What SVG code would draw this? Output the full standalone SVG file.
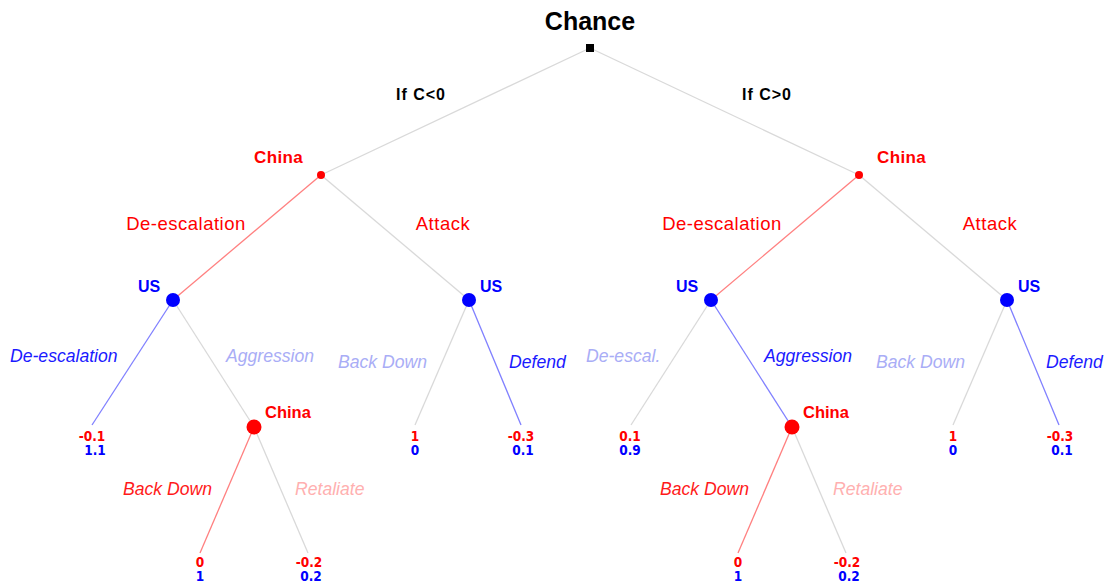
<svg xmlns="http://www.w3.org/2000/svg" width="1107" height="583" viewBox="0 0 1107 583">
<style>
text{font-family:"Liberation Sans",Arial,sans-serif}
.t{text-anchor:middle}
.chance{font-size:25px;font-weight:bold;fill:#000}
.ifc{font-size:16px;font-weight:bold;fill:#000;letter-spacing:1px}
.ch{font-size:17px;font-weight:bold;fill:#ff0000;letter-spacing:0.4px}
.chs{font-size:16.5px;font-weight:bold;fill:#ff0000}
.us{font-size:16px;font-weight:bold;fill:#0000ff}
.ra{font-size:18.5px;fill:#ff0000;letter-spacing:0.5px}
.bi{font-size:17.6px;font-style:italic;fill:#1a1aff}
.bl{font-size:17.6px;font-style:italic;fill:#a9adf6}
.ri{font-size:17.6px;font-style:italic;fill:#ff1a1a}
.rl{font-size:17.6px;font-style:italic;fill:#ffb0b0}
.nr,.nb{font-family:"DejaVu Sans Condensed","DejaVu Sans","Liberation Sans",sans-serif;font-stretch:condensed;font-size:13.5px;font-weight:bold;text-anchor:middle}
.nr{fill:#ff0000}
.nb{fill:#0000ff}
.g{stroke:#d9d9d9;stroke-width:1.3;fill:none}
.r{stroke:#ff8080;stroke-width:1.3;fill:none}
.b{stroke:#8080ff;stroke-width:1.3;fill:none}
</style>
<g id="connectors">
<line class="g" x1="590" y1="48" x2="321" y2="175"/>
<line class="g" x1="590" y1="48" x2="859" y2="175"/>
<line class="r" x1="321" y1="175" x2="173" y2="300"/>
<line class="g" x1="321" y1="175" x2="469" y2="300"/>
<line class="r" x1="859" y1="175" x2="711" y2="300"/>
<line class="g" x1="859" y1="175" x2="1007" y2="300"/>
<line class="b" x1="173" y1="300" x2="92" y2="425"/>
<line class="g" x1="173" y1="300" x2="254" y2="427"/>
<line class="r" x1="254" y1="427" x2="200" y2="553"/>
<line class="g" x1="254" y1="427" x2="308" y2="553"/>
<line class="g" x1="469" y1="300" x2="415" y2="425"/>
<line class="b" x1="469" y1="300" x2="521" y2="425"/>
<line class="g" x1="711" y1="300" x2="631" y2="425"/>
<line class="b" x1="711" y1="300" x2="792" y2="427"/>
<line class="r" x1="792" y1="427" x2="738" y2="553"/>
<line class="g" x1="792" y1="427" x2="846" y2="553"/>
<line class="g" x1="1007" y1="300" x2="953" y2="425"/>
<line class="b" x1="1007" y1="300" x2="1059" y2="425"/>
</g>
<g id="chance">
<rect x="586" y="44" width="8" height="8" fill="#000"/>
<text class="chance t" x="590" y="30">Chance</text>
<text class="ifc t" x="421" y="100">If C&lt;0</text>
<text class="ifc t" x="767" y="100">If C&gt;0</text>
</g>
<g id="china-left">
<circle cx="321" cy="175" r="4" fill="#ff0000"/>
<text class="ch" x="254" y="163">China</text>
<text class="ra t" x="186" y="230">De-escalation</text>
<text class="ra t" x="443" y="230">Attack</text>
</g>
<g id="china-right">
<circle cx="859" cy="175" r="4" fill="#ff0000"/>
<text class="ch" x="877" y="163">China</text>
<text class="ra t" x="722" y="230">De-escalation</text>
<text class="ra t" x="990" y="230">Attack</text>
</g>
<g id="us-1">
<circle cx="173" cy="300" r="7" fill="#0000ff"/>
<text class="us" x="138" y="292">US</text>
<text class="bi" x="10" y="362">De-escalation</text>
<text class="bl" x="226" y="362">Aggression</text>
</g>
<g id="us-2">
<circle cx="469" cy="300" r="7" fill="#0000ff"/>
<text class="us" x="480" y="292">US</text>
<text class="bl" x="338" y="368">Back Down</text>
<text class="bi" x="509" y="368">Defend</text>
</g>
<g id="us-3">
<circle cx="711" cy="300" r="7" fill="#0000ff"/>
<text class="us" x="676" y="292">US</text>
<text class="bl" x="586" y="362">De-escal.</text>
<text class="bi" x="764" y="362">Aggression</text>
</g>
<g id="us-4">
<circle cx="1007" cy="300" r="7" fill="#0000ff"/>
<text class="us" x="1018" y="292">US</text>
<text class="bl" x="876" y="368">Back Down</text>
<text class="bi" x="1046" y="368">Defend</text>
</g>
<g id="china-low-left">
<circle cx="254" cy="427" r="7.5" fill="#ff0000"/>
<text class="chs" x="265" y="418">China</text>
<text class="ri" x="123" y="495">Back Down</text>
<text class="rl" x="295" y="495">Retaliate</text>
</g>
<g id="china-low-right">
<circle cx="792" cy="427" r="7.5" fill="#ff0000"/>
<text class="chs" x="803" y="418">China</text>
<text class="ri" x="660" y="495">Back Down</text>
<text class="rl" x="833" y="495">Retaliate</text>
</g>
<g id="payoffs">
<text class="nr" x="92" y="441">-0.1</text><text class="nb" x="95" y="455">1.1</text>
<text class="nr" x="415" y="441">1</text><text class="nb" x="415" y="455">0</text>
<text class="nr" x="521" y="441">-0.3</text><text class="nb" x="523" y="455">0.1</text>
<text class="nr" x="630" y="441">0.1</text><text class="nb" x="630" y="455">0.9</text>
<text class="nr" x="953" y="441">1</text><text class="nb" x="953" y="455">0</text>
<text class="nr" x="1060" y="441">-0.3</text><text class="nb" x="1062" y="455">0.1</text>
<text class="nr" x="200" y="567">0</text><text class="nb" x="200" y="581">1</text>
<text class="nr" x="309" y="567">-0.2</text><text class="nb" x="311" y="581">0.2</text>
<text class="nr" x="738" y="567">0</text><text class="nb" x="738" y="581">1</text>
<text class="nr" x="847" y="567">-0.2</text><text class="nb" x="849" y="581">0.2</text>
</g>
</svg>
